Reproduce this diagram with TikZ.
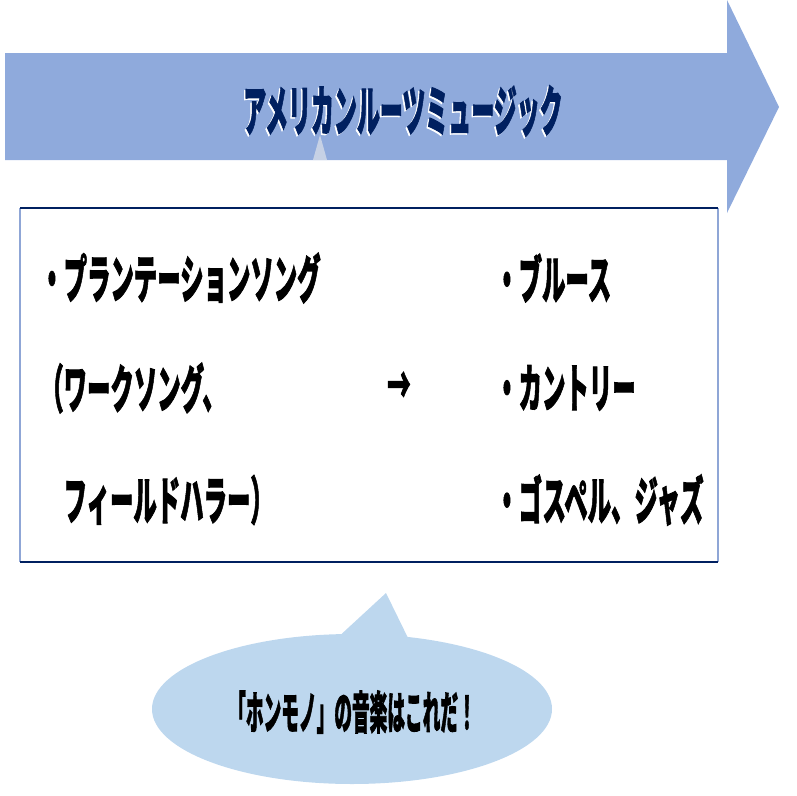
\documentclass[tikz,border=0pt]{standalone}
\usepackage{fontspec}
\newfontfamily\jp{Noto Sans CJK JP}[BoldFeatures={FakeBold=2}]
\usetikzlibrary{shapes.geometric}
\definecolor{arrowblue}{RGB}{143,170,220}
\definecolor{navy}{RGB}{0,32,96}
\definecolor{sideblue}{RGB}{143,166,214}
\definecolor{bubble}{RGB}{189,215,238}
\tikzset{
  itemtext/.style={anchor=west, inner sep=0pt, font=\jp\bfseries\fontsize{39}{39}\selectfont, text=black},
  titletext/.style={inner sep=0pt, font=\jp\bfseries\fontsize{41}{41}\selectfont},
  bubbletext/.style={inner sep=0pt, font=\jp\bfseries\fontsize{34}{34}\selectfont, text=black},
}
\newcommand{\nar}[2]{\scalebox{#1}[1]{#2}}
\begin{document}
\begin{tikzpicture}[x=0.75pt,y=-0.75pt]
\useasboundingbox (0,0) rectangle (796,796);
% big arrow
\fill[arrowblue] (5,53) -- (727,53) -- (727,0) -- (779,107) -- (727,213) -- (727,160) -- (5,160) -- cycle;
% faint spike
\fill[gray!15, opacity=0.6] (313,160) -- (327,160) -- (320,135) -- cycle;
% title with white shadow
\node[titletext, text=white] (titleshadow) at (401.5,112.5) {\nar{0.42}{アメリカンルーツミュージック}};
\node[titletext, text=navy] (title) at (403,111) {\nar{0.42}{アメリカンルーツミュージック}};
% box
\fill[white] (20,208) rectangle (718,562);
\draw[sideblue, line width=0.8pt] (20,208) -- (20,562);
\draw[sideblue, line width=0.8pt] (718,208) -- (718,562);
\draw[navy, line width=1.5pt] (20,208) -- (718,208);
\draw[navy, line width=1.5pt] (20,562) -- (718,562);
% items
\node[itemtext] (l1) at (40,278) {\nar{0.45}{・プランテーションソング}};
\node[itemtext] (l2) at (40,388) {\nar{0.45}{（ワークソング、}};
\node[itemtext] (l3) at (40,500) {\nar{0.45}{　フィールドハラー）}};
\node[itemtext] (arr) at (387,388) {\nar{0.45}{→}};
\node[itemtext] (r1) at (495,278) {\nar{0.45}{・ブルース}};
\node[itemtext] (r2) at (495,388) {\nar{0.45}{・カントリー}};
\node[itemtext] (r3) at (495,500) {\nar{0.45}{・ゴスペル、ジャズ}};
% callout
\fill[bubble] (335,640) -- (386,593) -- (410,642) -- cycle;
\node[ellipse, fill=bubble, inner sep=0pt, minimum width=300pt, minimum height=112.5pt] (bub) at (352,709) {};
\node[bubbletext] (bubt) at (352,712) {\nar{0.39}{「ホンモノ」の音楽はこれだ！}};
\end{tikzpicture}
\end{document}
